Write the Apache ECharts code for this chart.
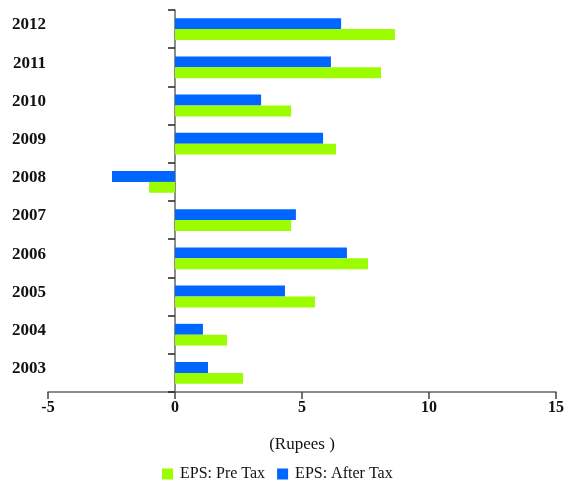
<!DOCTYPE html>
<html>
<head>
<meta charset="utf-8">
<script src="https://cdn.jsdelivr.net/npm/echarts@6/dist/echarts.min.js"></script>
<style>
  html, body { margin: 0; padding: 0; background: #fff; }
  #chart { width: 568px; height: 485px; }
</style>
</head>
<body>
<div id="chart"></div>
<script>
// Earnings per share by year, in rupees
const years = ['2003', '2004', '2005', '2006', '2007', '2008', '2009', '2010', '2011', '2012'];
const epsPreTax = [2.68, 2.05, 5.51, 7.60, 4.57, -1.02, 6.34, 4.57, 8.11, 8.66];
const epsAfterTax = [1.30, 1.10, 4.33, 6.77, 4.76, -2.48, 5.83, 3.39, 6.14, 6.54];
const valueTicks = { min: -5, max: 15, interval: 5 };

const FONT = 'Liberation Serif';
const chart = echarts.init(document.getElementById('chart'), null, { renderer: 'canvas' });

chart.setOption({
  animation: false,
  textStyle: { fontFamily: FONT },
  grid: { left: 48, right: 12, top: 10, bottom: 93, containLabel: false },
  legend: {
    left: 157,
    top: 461,
    itemWidth: 11,
    itemHeight: 11,
    itemGap: 12,
    icon: 'rect',
    textStyle: { fontFamily: FONT, fontSize: 16, color: '#111', padding: [0, 0, 0, 2] },
    data: ['EPS: Pre Tax', 'EPS: After Tax']
  },
  xAxis: {
    type: 'value',
    min: valueTicks.min,
    max: valueTicks.max,
    interval: valueTicks.interval,
    name: '(Rupees )',
    nameLocation: 'middle',
    nameGap: 44,
    nameTextStyle: { fontFamily: FONT, fontSize: 17, color: '#111' },
    splitLine: { show: false },
    axisLine: { show: true, lineStyle: { color: '#666', width: 1.5 } },
    axisTick: { show: true, length: 7, lineStyle: { color: '#444', width: 1.5 } },
    axisLabel: { fontFamily: FONT, fontSize: 16, fontWeight: 'bold', color: '#111', margin: 8 }
  },
  yAxis: [
    {
      type: 'category',
      data: years,
      axisLine: { show: true, onZero: true, lineStyle: { color: '#666', width: 1.5 } },
      axisTick: { show: true, length: 7, lineStyle: { color: '#222', width: 1.5 } },
      axisLabel: { show: false },
      splitLine: { show: false }
    },
    {
      type: 'category',
      data: years,
      position: 'left',
      axisLine: { show: false, onZero: false },
      axisTick: { show: false },
      axisLabel: {
        fontFamily: FONT, fontSize: 17, fontWeight: 'bold', color: '#111',
        margin: 2, verticalAlign: 'bottom', lineHeight: 8
      },
      splitLine: { show: false }
    }
  ],
  // After Tax is listed first so it sits above Pre Tax inside each year
  series: [
    {
      name: 'EPS: After Tax',
      type: 'bar',
      data: epsAfterTax,
      itemStyle: { color: '#0066FF' },
      barGap: '0%',
      barCategoryGap: '43%'
    },
    {
      name: 'EPS: Pre Tax',
      type: 'bar',
      data: epsPreTax,
      itemStyle: { color: '#9CFC00' },
      barGap: '0%',
      barCategoryGap: '43%'
    }
  ]
});
</script>
</body>
</html>
